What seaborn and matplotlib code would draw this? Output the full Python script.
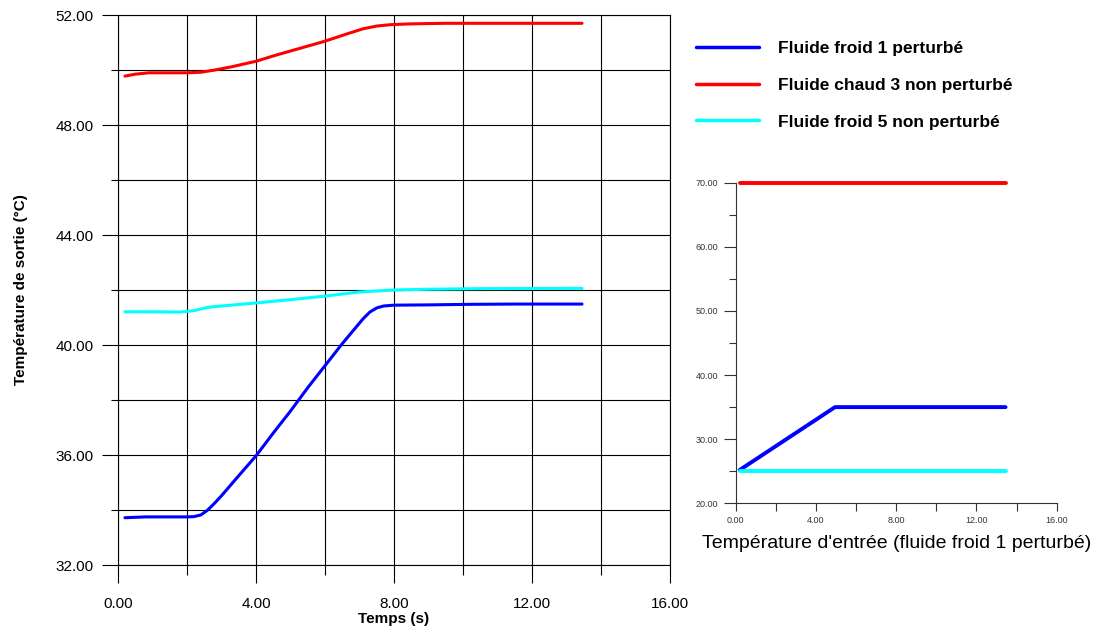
import matplotlib
matplotlib.use("Agg")
import matplotlib.pyplot as plt
from matplotlib.lines import Line2D
from matplotlib.ticker import MultipleLocator, FormatStrFormatter
import seaborn as sns

# ── Data ──────────────────────────────────────────────────────────────────
t_froid1 = [0.2, 0.8, 1.5, 2.0, 2.2, 2.4, 2.6, 2.8, 3.0, 3.5, 4.0, 4.5, 5.0,
            5.5, 6.0, 6.5, 6.9, 7.1, 7.3, 7.5, 7.7, 8.0, 9.0, 10.2, 11.5, 13.45]
froid1 = [33.72, 33.75, 33.75, 33.75, 33.76, 33.82, 34.0, 34.25, 34.52, 35.25,
          35.97, 36.8, 37.6, 38.45, 39.25, 40.05, 40.65, 40.95, 41.2, 41.35,
          41.42, 41.45, 41.46, 41.48, 41.49, 41.49]

t_chaud3 = [0.2, 0.5, 0.9, 1.5, 2.0, 2.4, 2.8, 3.3, 4.0, 4.6, 5.3, 6.0, 6.6,
            7.1, 7.5, 7.9, 8.5, 9.5, 11.0, 13.45]
chaud3 = [49.78, 49.85, 49.9, 49.9, 49.9, 49.92, 50.0, 50.12, 50.32, 50.55,
          50.8, 51.05, 51.3, 51.5, 51.6, 51.65, 51.68, 51.7, 51.7, 51.7]

t_froid5 = [0.2, 1.0, 1.8, 2.2, 2.6, 3.0, 4.0, 5.0, 6.0, 7.0, 8.0, 9.0, 10.5, 13.45]
froid5 = [41.21, 41.21, 41.2, 41.25, 41.37, 41.42, 41.53, 41.65, 41.78, 41.93,
          42.0, 42.03, 42.05, 42.06]

# inlet temperatures (inset)
t_in = [0.2, 4.95, 13.45]
in_froid1 = [25.2, 35.0, 35.0]
in_chaud3 = [70.0, 70.0, 70.0]
in_froid5 = [25.0, 25.0, 25.0]

labels = ["Fluide froid 1 perturbé", "Fluide chaud 3 non perturbé",
          "Fluide froid 5 non perturbé"]
colors = ["#0000ff", "#ff0000", "#00ffff"]

sns.set_style("white")
plt.rcParams["font.family"] = ["Liberation Sans", "DejaVu Sans"]
plt.rcParams.update({"text.color": "black", "axes.labelcolor": "black",
                     "xtick.color": "black", "ytick.color": "black"})

fig = plt.figure(figsize=(11.02, 6.35), dpi=100)

# ── Main chart ────────────────────────────────────────────────────────────
ax = fig.add_axes([0.1071, 0.1102, 0.5009, 0.8661])
series = [(t_froid1, froid1), (t_chaud3, chaud3), (t_froid5, froid5)]
for (x, y), c in zip(series, colors):
    sns.lineplot(x=x, y=y, ax=ax, color=c, lw=2.2, sort=False)

ax.set_xlim(0, 16)
ax.set_ylim(32, 52)
ax.xaxis.set_major_locator(MultipleLocator(4))
ax.xaxis.set_minor_locator(MultipleLocator(2))
ax.yaxis.set_major_locator(MultipleLocator(4))
ax.yaxis.set_minor_locator(MultipleLocator(2))
ax.xaxis.set_major_formatter(FormatStrFormatter("%.2f"))
ax.yaxis.set_major_formatter(FormatStrFormatter("%.2f"))
ax.grid(True, which="both", color="black", lw=0.8)
ax.tick_params(axis="x", which="major", length=13, pad=10)
ax.tick_params(axis="x", which="minor", length=7)
ax.tick_params(axis="y", which="major", length=11.5, pad=6)
ax.tick_params(axis="y", which="minor", length=5)
ax.tick_params(which="both", width=0.8, color="black", labelsize=11,
               direction="out", left=True, bottom=True)
for s in ax.spines.values():
    s.set_color("black")
    s.set_linewidth(0.8)
ax.set_xlabel("Temps (s)", fontweight="bold", fontsize=11, labelpad=1)
ax.set_ylabel("Température de sortie (°C)", fontweight="bold", fontsize=11,
              labelpad=20)

# ── Inset: inlet temperatures ─────────────────────────────────────────────
ax2 = fig.add_axes([0.6676, 0.2074, 0.2913, 0.5049])
inset = [in_froid1, in_chaud3, in_froid5]
for y, c in zip(inset, colors):
    sns.lineplot(x=t_in, y=y, ax=ax2, color=c, lw=2.8, clip_on=False)
ax2.set_xlim(0, 16)
ax2.set_ylim(20, 70)
ax2.xaxis.set_major_locator(MultipleLocator(4))
ax2.xaxis.set_minor_locator(MultipleLocator(2))
ax2.yaxis.set_major_locator(MultipleLocator(10))
ax2.yaxis.set_minor_locator(MultipleLocator(5))
ax2.xaxis.set_major_formatter(FormatStrFormatter("%.2f"))
ax2.yaxis.set_major_formatter(FormatStrFormatter("%.2f"))
ax2.tick_params(axis="y", which="major", length=8.5, pad=4)
ax2.tick_params(axis="y", which="minor", length=5)
ax2.tick_params(axis="x", which="both", length=5.5, pad=4)
ax2.tick_params(which="both", width=0.8, color="#333333", labelsize=6.5,
                labelcolor="#333344", direction="out", left=True, bottom=True)
ax2.spines["top"].set_visible(False)
ax2.spines["right"].set_visible(False)
for s in ("left", "bottom"):
    ax2.spines[s].set_color("#333333")
    ax2.spines[s].set_linewidth(0.8)
ax2.set_xlabel("Température d'entrée (fluide froid 1 perturbé)", fontsize=14,
               labelpad=7)

# ── Legend ────────────────────────────────────────────────────────────────
handles = [Line2D([], [], color=c, lw=2.5) for c in colors]
fig.legend(handles, labels, loc="upper left", bbox_to_anchor=(0.6316, 0.936),
           frameon=False, prop={"weight": "bold", "size": 12.5},
           borderaxespad=0, borderpad=0,
           handlelength=3.6, handletextpad=1.1, labelspacing=1.25)

fig.savefig("out.png", dpi=100)
